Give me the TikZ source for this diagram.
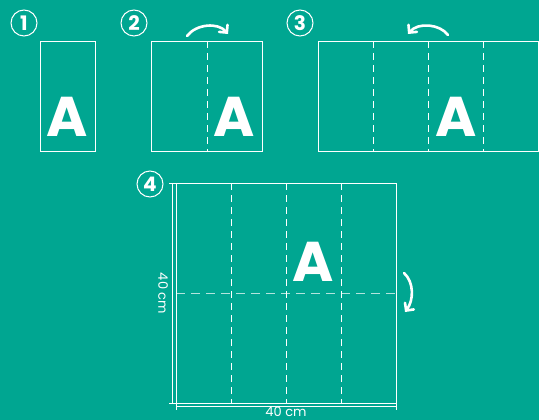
\documentclass[tikz,border=0pt]{standalone}
\usepackage{fontspec}
\setmainfont{Poppins}
\usetikzlibrary{arrows.meta}
\definecolor{bg}{RGB}{0,166,145}
\begin{document}
\begin{tikzpicture}[x=1pt,y=-1pt,
 paper/.style={draw=white,line width=0.9pt},
 fold/.style={draw=white,line width=0.9pt,dash pattern=on 7pt off 5pt},
 foldh/.style={draw=white,draw opacity=0.7,line width=1pt,dash pattern=on 9pt off 6pt},
 bigA/.style={text=white,font=\fontsize{56}{56}\selectfont\bfseries,inner sep=0pt,anchor=base},
 num/.style={circle,draw=white,line width=1pt,text=white,font=\fontsize{20}{20}\selectfont\bfseries,minimum size=26pt,inner sep=0pt},
 turn/.style={draw=white,line width=2.6pt,line cap=round,-{Straight Barb[length=5.5pt,width=11pt,line cap=round]}},
 dim/.style={draw=white,line width=0.8pt},
 lbl/.style={text=white,font=\fontsize{13}{13}\selectfont,inner sep=0pt}]
\fill[bg] (0,0) rectangle (539,420);
\useasboundingbox (0,0) rectangle (539,420);
% step numbers
\node[num] (n1) at (24,23) {1};
\node[num] (n2) at (134,23) {2};
\node[num] (n3) at (300,23) {3};
\node[num] (n4) at (150,184) {4};
% panel 1
\draw[paper] (40,41) rectangle (95,151);
\node[bigA] (a1) at (67.5,137) {A};
% panel 2
\draw[paper] (151,41) rectangle (262,151);
\draw[fold] (207,41) -- (207,151);
\node[bigA] (a2) at (234.5,137) {A};
\coordinate (s2) at (187,36);
\coordinate (e2) at (228,34);
\draw[turn] (s2) .. controls (196,24) and (218,22) .. (e2);
% panel 3
\draw[paper] (318,41) rectangle (538,151);
\foreach \x in {373,428,483} \draw[fold] (\x,41) -- (\x,151);
\node[bigA] (a3) at (456,137) {A};
\coordinate (s3) at (448,35);
\coordinate (e3) at (408,34);
\draw[turn] (s3) .. controls (440,24) and (418,22) .. (e3);
% panel 4
\draw[paper] (176,183) rectangle (396,403);
\foreach \x in {231,286,341} \draw[fold] (\x,183) -- (\x,403);
\draw[foldh] (176,293) -- (396,293);
\node[bigA] (a4) at (313.5,281) {A};
\coordinate (s4) at (404,273);
\coordinate (e4) at (405,312);
\draw[turn] (s4) .. controls (414,282) and (414,300) .. (e4);
% dimensions
\draw[dim] (172.5,183) -- (172.5,403);
\draw[dim] (169,183) -- (176,183);
\draw[dim] (169,403) -- (176,403);
\draw[dim] (176,406.5) -- (396,406.5);
\draw[dim] (176,403) -- (176,410);
\draw[dim] (396,403) -- (396,410);
\node[lbl,rotate=-90] (dl) at (163,293.5) {40 cm};
\node[lbl] (db) at (286,411.5) {40 cm};
\end{tikzpicture}
\end{document}
